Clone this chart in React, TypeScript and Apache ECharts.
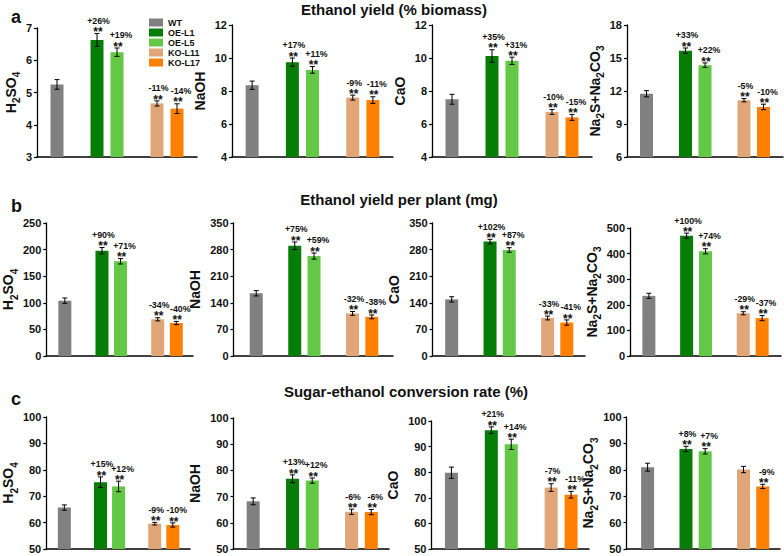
import React, { useEffect, useRef } from "react";
import * as echarts from "echarts";

const groups = ["WT", "OE-L1", "OE-L5", "KO-L11", "KO-L17"];
const groupPos = [1, 3, 4, 6, 7];
const groupColors = ["#808080", "#067d06", "#62c846", "#e0a677", "#ff8000"];

const rowTitles = [
  "Ethanol yield (% biomass)",
  "Ethanol yield per plant (mg)",
  "Sugar-ethanol conversion rate (%)",
];
const rowLetters = ["a", "b", "c"];

// axis names (rich text: n = normal, s = subscript)
const nameH2SO4 = "{n|H}{s|2}{n|SO}{s|4}";
const nameNaOH = "{n|NaOH}";
const nameCaO = "{n|CaO}";
const nameNa2S = "{n|Na}{s|2}{n|S+Na}{s|2}{n|CO}{s|3}";

// Row a: Ethanol yield (% biomass)
const aH2SO4 = [5.25, 6.63, 6.25, 4.66, 4.5];
const aH2SO4Err = [0.15, 0.2, 0.13, 0.08, 0.15];
const aH2SO4Pct = ["", "+26%", "+19%", "-11%", "-14%"];
const aNaOH = [8.35, 9.75, 9.28, 7.6, 7.45];
const aNaOHErr = [0.25, 0.25, 0.2, 0.15, 0.2];
const aNaOHPct = ["", "+17%", "+11%", "-9%", "-11%"];
const aCaO = [7.5, 10.12, 9.83, 6.73, 6.4];
const aCaOErr = [0.3, 0.38, 0.22, 0.15, 0.18];
const aCaOPct = ["", "+35%", "+31%", "-10%", "-15%"];
const aNa2S = [11.75, 15.66, 14.35, 11.16, 10.55];
const aNa2SErr = [0.28, 0.25, 0.2, 0.15, 0.25];
const aNa2SPct = ["", "+33%", "+22%", "-5%", "-10%"];

// Row b: Ethanol yield per plant (mg)
const bH2SO4 = [104, 198, 178, 69, 62];
const bH2SO4Err = [5, 6, 5, 3, 3];
const bH2SO4Pct = ["", "+90%", "+71%", "-34%", "-40%"];
const bNaOH = [165, 290, 263, 112, 103];
const bNaOHErr = [7, 10, 8, 5, 5];
const bNaOHPct = ["", "+75%", "+59%", "-32%", "-38%"];
const bCaO = [149, 301, 279, 100, 88];
const bCaOErr = [7, 6, 6, 5, 7];
const bCaOPct = ["", "+102%", "+87%", "-33%", "-41%"];
const bNa2S = [235, 470, 409, 167, 148];
const bNa2SErr = [10, 10, 10, 6, 10];
const bNa2SPct = ["", "+100%", "+74%", "-29%", "-37%"];

// Row c: Sugar-ethanol conversion rate (%)
const cH2SO4 = [65.7, 75.3, 73.7, 59.6, 59.1];
const cH2SO4Err = [1, 2, 2, 0.5, 0.8];
const cH2SO4Pct = ["", "+15%", "+12%", "-9%", "-10%"];
const cNaOH = [68.2, 76.8, 76.1, 64.2, 64.1];
const cNaOHErr = [1.3, 1.5, 1, 1, 1];
const cNaOHPct = ["", "+13%", "+12%", "-6%", "-6%"];
const cCaO = [79.8, 96.4, 90.9, 74, 71.2];
const cCaOErr = [2.2, 1.3, 2, 1.5, 1.3];
const cCaOPct = ["", "+21%", "+14%", "-7%", "-11%"];
const cNa2S = [81, 87.9, 87.0, 80.1, 73.7];
const cNa2SErr = [1.5, 1, 1, 1.2, 0.8];
const cNa2SPct = ["", "+8%", "+7%", "", "-9%"];

// y-axis ranges: [min, max, interval]
const aRanges = [[3, 7, 1], [4, 12, 2], [4, 12, 2], [6, 18, 3]];
const bRanges = [[0, 250, 50], [0, 350, 70], [0, 350, 70], [0, 500, 100]];
const cRanges = [[50, 100, 10], [50, 100, 10], [50, 100, 10], [50, 100, 10]];

const panelData = [
  [aH2SO4, aH2SO4Err, aH2SO4Pct, nameH2SO4],
  [aNaOH, aNaOHErr, aNaOHPct, nameNaOH],
  [aCaO, aCaOErr, aCaOPct, nameCaO],
  [aNa2S, aNa2SErr, aNa2SPct, nameNa2S],
  [bH2SO4, bH2SO4Err, bH2SO4Pct, nameH2SO4],
  [bNaOH, bNaOHErr, bNaOHPct, nameNaOH],
  [bCaO, bCaOErr, bCaOPct, nameCaO],
  [bNa2S, bNa2SErr, bNa2SPct, nameNa2S],
  [cH2SO4, cH2SO4Err, cH2SO4Pct, nameH2SO4],
  [cNaOH, cNaOHErr, cNaOHPct, nameNaOH],
  [cCaO, cCaOErr, cCaOPct, nameCaO],
  [cNa2S, cNa2SErr, cNa2SPct, nameNa2S],
] as any[];
const panelRanges = [...aRanges, ...bRanges, ...cRanges];

// layout (pixels)
const layout = [
  { left: 37, top: 28, bottom: 157, right: 197, xMin: 0, xMax: 8, gap: 7 },
  { left: 232, top: 25, bottom: 157, right: 393, xMin: 0, xMax: 8, gap: 14.5 },
  { left: 432, top: 25, bottom: 157, right: 592, xMin: 0, xMax: 8, gap: 16 },
  { left: 627, top: 25, bottom: 157, right: 783, xMin: 0, xMax: 8, gap: 14 },
  { left: 39.5, top: 223, bottom: 356, right: 193, xMin: 0, xMax: 7.9, gap: 18 },
  { left: 233.5, top: 223, bottom: 356, right: 393, xMin: -0.18, xMax: 8.1, gap: 18 },
  { left: 432.5, top: 223, bottom: 356, right: 585, xMin: 0, xMax: 7.95, gap: 22 },
  { left: 630, top: 228, bottom: 356, right: 781, xMin: 0, xMax: 8, gap: 18 },
  { left: 40, top: 417, bottom: 549, right: 190, xMin: 0, xMax: 7.95, gap: 18 },
  { left: 233.5, top: 418, bottom: 549, right: 389, xMin: 0, xMax: 7.9, gap: 14.5 },
  { left: 431.5, top: 421, bottom: 549, right: 589, xMin: 0, xMax: 7.9, gap: 14.5 },
  { left: 626.5, top: 417, bottom: 549, right: 780, xMin: -0.1, xMax: 7.9, gap: 14.5 },
];

const FONT = "'Liberation Sans', Arial, Helvetica, sans-serif";
const INK = "#111111";

function buildOption() {
  const grid: any[] = [];
  const xAxis: any[] = [];
  const yAxis: any[] = [];
  const series: any[] = [];

  const rich = {
    n: { fontSize: 14, fontWeight: "bold", lineHeight: 14, padding: [0, 0, 4, 0], fontFamily: FONT, color: INK },
    s: { fontSize: 10, fontWeight: "bold", lineHeight: 10, padding: [8, 0, 0, 0], fontFamily: FONT, color: INK },
  };

  panelData.forEach((pd: any[], i: number) => {
    const [vals, errs, pcts, name] = pd;
    const [yMin, yMax, yStep] = panelRanges[i];
    const L = layout[i];
    grid.push({ left: L.left, top: L.top, width: L.right - L.left, height: L.bottom - L.top, containLabel: false });
    xAxis.push({
      type: "value",
      gridIndex: i,
      min: L.xMin,
      max: L.xMax,
      axisLine: { show: true, onZero: false, lineStyle: { color: "#000", width: 1.5 } },
      axisTick: { show: false },
      axisLabel: { show: false },
      splitLine: { show: false },
    });
    yAxis.push({
      type: "value",
      gridIndex: i,
      min: yMin,
      max: yMax,
      interval: yStep,
      name,
      nameLocation: "middle",
      nameRotate: 90,
      nameGap: L.gap,
      nameTextStyle: { fontSize: 14, fontWeight: "bold", fontFamily: FONT, color: INK, rich },
      axisLine: { show: true, onZero: false, lineStyle: { color: "#000", width: 1.3 } },
      axisTick: { show: true, inside: false, length: 3, lineStyle: { color: "#000", width: 1.2 } },
      axisLabel: { show: true, fontSize: 11, fontWeight: "bold", fontFamily: FONT, color: INK, margin: 5 },
      splitLine: { show: false },
    });
    groups.forEach((g, k) => {
      series.push({
        type: "bar",
        name: g,
        xAxisIndex: i,
        yAxisIndex: i,
        barWidth: 13,
        barGap: "-100%",
        clip: true,
        itemStyle: { color: groupColors[k] },
        data: [[groupPos[k], vals[k]]],
        z: 2,
      });
    });
    series.push({
      type: "custom",
      name: "err" + i,
      xAxisIndex: i,
      yAxisIndex: i,
      clip: false,
      z: 5,
      data: groups.map((g, k) => [groupPos[k], vals[k], errs[k]]),
      renderItem: (params: any, api: any) => {
        const idx = params.dataIndex;
        const x = api.value(0);
        const v = api.value(1);
        const e = api.value(2);
        const top = api.coord([x, v + e]);
        const bot = api.coord([x, v - e]);
        const cx = top[0];
        const cap = 2.5;
        const ls = { stroke: "#000", lineWidth: 1 };
        const children: any[] = [
          { type: "line", shape: { x1: cx, y1: top[1], x2: cx, y2: bot[1] }, style: ls },
          { type: "line", shape: { x1: cx - cap, y1: top[1], x2: cx + cap, y2: top[1] }, style: ls },
          { type: "line", shape: { x1: cx - cap, y1: bot[1], x2: cx + cap, y2: bot[1] }, style: ls },
        ];
        const pct = pcts[idx];
        if (pct) {
          const second = idx === 2 || idx === 4;
          children.push({
            type: "text",
            style: {
              text: "**", x: cx + 1, y: top[1] - 1.3, align: "center", verticalAlign: "middle",
              fontSize: 12, fontWeight: "bold", fontFamily: FONT, fill: INK,
            },
          });
          children.push({
            type: "text",
            style: {
              text: pct, x: cx + (second ? 4 : 1.5), y: top[1] - 12.6, align: "center", verticalAlign: "middle",
              fontSize: 8.8, fontWeight: "bold", fontFamily: FONT, fill: INK,
            },
          });
        }
        return { type: "group", children };
      },
    });
  });

  const titleStyle = { fontSize: 15, fontWeight: "bold", fontFamily: FONT, color: INK };
  const letterStyle = { fontSize: 18, fontWeight: "bold", fontFamily: FONT, color: INK };
  const titleTops = [2, 191.5, 383.5];
  const titleCenters = [394, 399, 406];
  const letterTops = [8, 197, 390];
  const title: any[] = [];
  rowTitles.forEach((t, r) => {
    title.push({ text: t, left: titleCenters[r], top: titleTops[r], textAlign: "center", padding: 0, textStyle: titleStyle });
    title.push({ text: rowLetters[r], left: 11, top: letterTops[r], padding: 0, textStyle: letterStyle });
  });

  return {
    animation: false,
    backgroundColor: "#ffffff",
    title,
    legend: {
      data: groups.map((g) => ({ name: g, icon: "rect" })),
      orient: "vertical",
      left: 149,
      top: 18,
      padding: 0,
      itemWidth: 14,
      itemHeight: 8,
      itemGap: 1,
      selectedMode: false,
      textStyle: { fontSize: 9, fontWeight: "bold", fontFamily: FONT, color: INK, lineHeight: 9 },
    },
    grid,
    xAxis,
    yAxis,
    series,
  };
}

export default function App() {
  const ref = useRef<HTMLDivElement>(null);
  useEffect(() => {
    if (!ref.current) return;
    const chart = echarts.init(ref.current, null, { renderer: "svg" });
    chart.setOption(buildOption() as any);
    return () => chart.dispose();
  }, []);
  return (
    <div
      ref={ref}
      style={{ position: "fixed", left: 0, top: 0, width: 784, height: 556, background: "#fff" }}
    />
  );
}
